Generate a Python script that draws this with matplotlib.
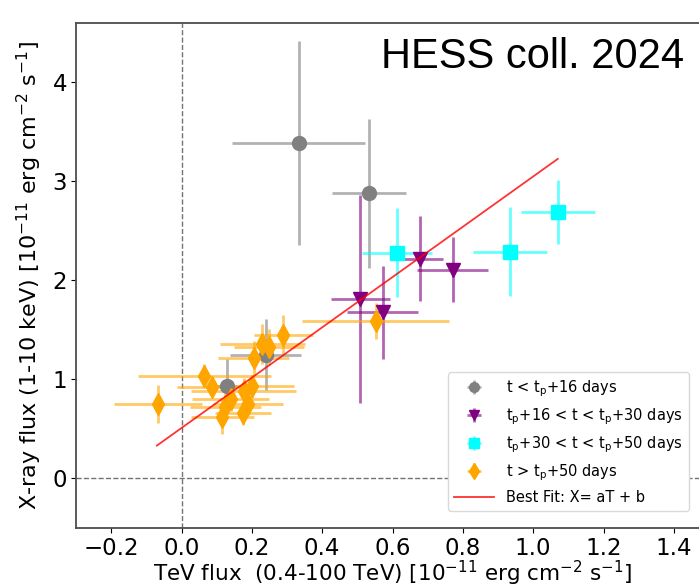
import matplotlib
matplotlib.use("Agg")
import matplotlib.pyplot as plt
from matplotlib.colors import to_rgba
import numpy as np

# t < tp+16 days
gray_x = [0.333, 0.532, 0.128, 0.239]
gray_y = [3.39, 2.88, 0.93, 1.25]
gray_xerr = [0.19, 0.105, 0.03, 0.10]
gray_yerr = [1.03, 0.75, 0.28, 0.36]

# tp+16 < t < tp+30 days
purple_x = [0.509, 0.572, 0.677, 0.771]
purple_y = [1.81, 1.68, 2.22, 2.11]
purple_xerr = [0.084, 0.10, 0.066, 0.10]
purple_yerr = [1.05, 0.47, 0.43, 0.33]

# tp+30 < t < tp+50 days
cyan_x = [0.612, 0.934, 1.07]
cyan_y = [2.28, 2.29, 2.69]
cyan_xerr = [0.10, 0.106, 0.105]
cyan_yerr = [0.45, 0.45, 0.32]

# t > tp+50 days
orange_x = [-0.068, 0.065, 0.088, 0.116, 0.125, 0.140, 0.177, 0.200,
            0.190, 0.205, 0.230, 0.248, 0.290, 0.552, 0.174]
orange_y = [0.75, 1.04, 0.92, 0.62, 0.72, 0.80, 0.88, 0.93,
            0.75, 1.22, 1.36, 1.33, 1.45, 1.59, 0.66]
orange_xerr = [0.125, 0.19, 0.10, 0.09, 0.10, 0.11, 0.15, 0.12,
               0.10, 0.10, 0.12, 0.10, 0.085, 0.21, 0.08]
orange_yerr = [0.19, 0.12, 0.10, 0.17, 0.15, 0.12, 0.13, 0.12,
               0.10, 0.17, 0.20, 0.18, 0.20, 0.18, 0.12]

# best fit X = aT + b
fit_a = 2.54
fit_b = 0.51
fit_T = [-0.07, 1.07]

W, H = 699, 588
fig = plt.figure(figsize=(W / 100, H / 100), dpi=100)
ax = fig.add_axes([76 / W, 60 / H, 633 / W, 505 / H])

ax.axvline(0, color='0.45', ls='--', lw=1, zorder=0)
ax.axhline(0, color='0.45', ls='--', lw=1, zorder=0)

def group(x, y, xe, ye, col, mk, ms, lab):
    return ax.errorbar(x, y, xerr=xe, yerr=ye, fmt=mk, color=col, ms=ms,
                       ecolor=to_rgba(col, 0.6), elinewidth=2, capsize=0,
                       label=lab, zorder=3)

handles = []
handles.append(group(gray_x, gray_y, gray_xerr, gray_yerr, 'gray', 'o', 10,
                     r't < t$_{\rm p}$+16 days'))
handles.append(group(purple_x, purple_y, purple_xerr, purple_yerr, 'purple', 'v', 10,
                     r't$_{\rm p}$+16 < t < t$_{\rm p}$+30 days'))
handles.append(group(cyan_x, cyan_y, cyan_xerr, cyan_yerr, 'cyan', 's', 10,
                     r't$_{\rm p}$+30 < t < t$_{\rm p}$+50 days'))
handles.append(group(orange_x, orange_y, orange_xerr, orange_yerr, 'orange', 'd', 11,
                     r't > t$_{\rm p}$+50 days'))

T = np.array(fit_T)
fit_line, = ax.plot(T, fit_a * T + fit_b, color='red', lw=1.3, alpha=0.8,
                    label='Best Fit: X= aT + b', zorder=4)
handles.append(fit_line)

ax.set_xlim(-0.3, 1.5)
ax.set_ylim(-0.5, 4.6)
ax.set_xticks([-0.2, 0.0, 0.2, 0.4, 0.6, 0.8, 1.0, 1.2, 1.4])
ax.set_yticks([0, 1, 2, 3, 4])
ax.tick_params(labelsize=16.5, pad=3)
for s in ax.spines.values():
    s.set_color('0.3')
    s.set_linewidth(1.3)

ax.set_xlabel(r'TeV flux  (0.4-100 TeV) [10$^{-11}$ erg cm$^{-2}$ s$^{-1}$]',
              fontsize=15.5, labelpad=-1)
ax.set_ylabel(r'X-ray flux (1-10 keV) [10$^{-11}$ erg cm$^{-2}$ s$^{-1}$]',
              fontsize=16, labelpad=6)

ax.legend(handles=handles, loc='lower right', bbox_to_anchor=(696 / W, 70 / H),
          bbox_transform=fig.transFigure, fontsize=10.5, labelspacing=0.5,
          handlelength=2.8, markerscale=0.7, framealpha=1, edgecolor='0.85')

fig.text(381 / W, 1 - 68 / H, 'HESS coll. 2024', fontsize=30,
         family='Liberation Sans', va='baseline')

fig.savefig('out.png', dpi=100)
